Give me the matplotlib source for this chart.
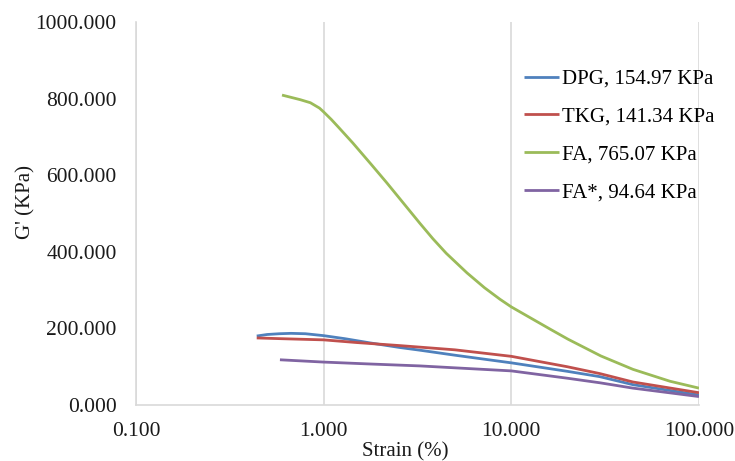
import matplotlib.pyplot as plt
from matplotlib.ticker import FixedLocator, FuncFormatter, NullLocator

# values
dpg_x = [0.44, 0.5, 0.58, 0.67, 0.8, 1.0, 1.3, 1.77, 2.55, 3.26, 5.0, 10.0, 19.8, 29.6, 44.5, 100.0]
dpg_y = [180, 184, 186, 187, 186, 181, 173, 162, 150, 143, 130, 110, 88, 74, 53, 26]

tkg_x = [0.44, 0.6, 1.0, 1.5, 2.55, 3.26, 5.0, 10.0, 19.8, 29.6, 44.5, 100.0]
tkg_y = [175, 173, 170, 163, 155, 151, 144, 127, 100, 82, 60, 32]

fa_x = [0.6, 0.75, 0.85, 0.95, 1.0, 1.1, 1.2, 1.43, 1.8, 2.17, 2.55, 3.26, 3.82, 4.5, 5.8,
        7.2, 8.7, 10.0, 16.1, 20.0, 30.0, 44.5, 70.0, 100.0]
fa_y = [809, 797, 789, 775, 765, 745, 725, 684, 627, 580, 538, 474, 434, 396, 345,
        306, 276, 256, 198, 172, 128, 93, 62, 44]

fas_x = [0.585, 1.0, 1.77, 2.55, 3.26, 5.0, 10.0, 19.8, 29.6, 44.5, 100.0]
fas_y = [118, 112, 107, 104, 102, 97, 89, 70, 58, 44, 22]

labels = ['DPG, 154.97 KPa', 'TKG, 141.34 KPa', 'FA, 765.07 KPa', 'FA*, 94.64 KPa']
colors = ['#4F81BD', '#C0504D', '#9BBB59', '#8064A2']

plt.rcParams['font.family'] = ['Liberation Serif', 'DejaVu Serif']

fig = plt.figure(figsize=(7.35, 4.61), dpi=100)
ax = fig.add_axes([0.185, 0.1215, 0.766, 0.831])

series = [(dpg_x, dpg_y), (tkg_x, tkg_y), (fa_x, fa_y), (fas_x, fas_y)]
for (xs, ys), lab, col in zip(series, labels, colors):
    ax.plot(xs, ys, color=col, lw=2.0, label=lab, solid_capstyle='butt',
            solid_joinstyle='round')

ax.set_xscale('log')
ax.set_xlim(0.1, 100)
ax.set_ylim(0, 1000)
ax.xaxis.set_major_locator(FixedLocator([0.1, 1, 10, 100]))
ax.xaxis.set_minor_locator(NullLocator())
ax.xaxis.set_major_formatter(FuncFormatter(lambda v, p: f'{v:.3f}'))
ax.set_yticks([0, 200, 400, 600, 800, 1000])
ax.yaxis.set_major_formatter(FuncFormatter(lambda v, p: f'{v:.3f}'))

ax.grid(axis='x', color='#D9D9D9', lw=1.2)
ax.set_axisbelow(True)
for s in ['top', 'right']:
    ax.spines[s].set_visible(False)
for s in ['left', 'bottom']:
    ax.spines[s].set_color('#D9D9D9')
    ax.spines[s].set_linewidth(1.2)

ax.tick_params(axis='both', length=0, labelsize=15.5, labelcolor='#1a1a1a')
ax.tick_params(axis='x', pad=12)
ax.tick_params(axis='y', pad=14)

ax.set_xlabel('Strain (%)', fontsize=15, color='#1a1a1a')
ax.set_ylabel("G' (KPa)", fontsize=15, color='#1a1a1a')
ax.xaxis.set_label_coords(0.478, -0.097)
ax.yaxis.set_label_coords(-0.179, 0.53)

ax.legend(loc='upper left', bbox_to_anchor=(0.656, 0.925), frameon=False,
          fontsize=15, handlelength=1.7, handletextpad=0.1, labelspacing=0.87)

fig.savefig('out.png', dpi=100)
